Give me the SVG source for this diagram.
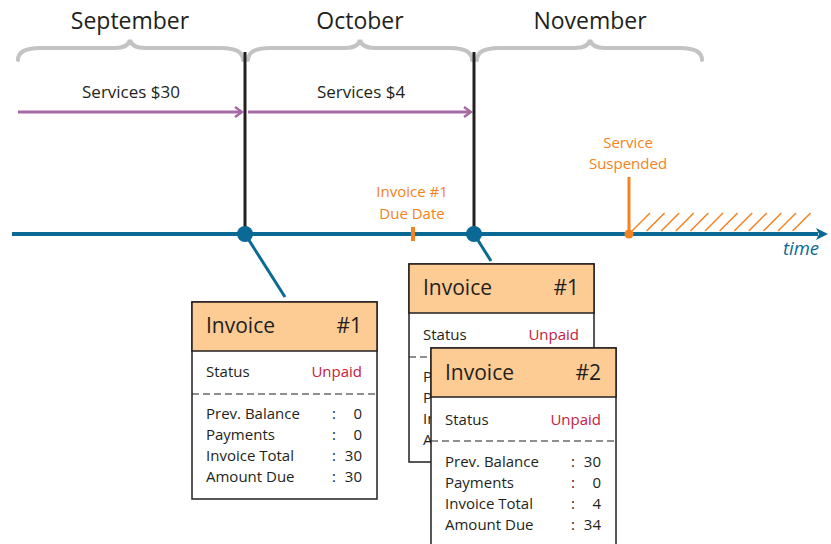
<svg xmlns="http://www.w3.org/2000/svg" width="831" height="544" viewBox="0 0 831 544">
<defs>
<style>
text{font-family:"Open Sans","Noto Sans","Liberation Sans",sans-serif;fill:#231f20}
.month{font-size:23px;text-anchor:middle}
.svc{font-size:17px;text-anchor:middle}
.brace{fill:none;stroke:#c3c3c3;stroke-width:4;stroke-linecap:round}
.orange{fill:#f58220;font-size:15px;text-anchor:middle}
.box{fill:#fff;stroke:#231f20;stroke-width:1.5}
.hdr{fill:#fdcb94;stroke:#231f20;stroke-width:1.5}
.ht{font-size:21px}
.st{font-size:15px}
.red{fill:#c8203c}
.r{text-anchor:end}
.dash{stroke:#231f20;stroke-width:1.2;stroke-dasharray:7 4}
.vline{stroke:#231f20;stroke-width:3}
.purple{stroke:#a46ba6;stroke-width:3;fill:none}
.blue{stroke:#0b6996}
</style>
<clipPath id="hidden">
<rect x="409" y="358" width="22" height="104"/>
</clipPath>
<marker id="chev" markerWidth="10" markerHeight="12" refX="8" refY="6" orient="auto" markerUnits="userSpaceOnUse">
<path d="M1,1 L8,6 L1,11" fill="none" stroke="#a46ba6" stroke-width="2.5"/>
</marker>
<marker id="tarrow" markerWidth="14" markerHeight="14" refX="2" refY="7" orient="auto" markerUnits="userSpaceOnUse">
<path d="M0,1 L12,7 L0,13 L3,7 Z" fill="#0b6996"/>
</marker>
</defs>

<g id="months">
<text class="month" x="130" y="29">September</text>
<text class="month" x="360" y="29">October</text>
<text class="month" x="590" y="29">November</text>
<path class="brace" d="M18,60 Q18,48 40,48 L115,48 Q128,48 130,40 Q132,48 145,48 L221,48 Q243,48 243,60"/>
<path class="brace" d="M248,60 Q248,48 270,48 L345,48 Q358,48 360,40 Q362,48 375,48 L450,48 Q472,48 472,60"/>
<path class="brace" d="M477,60 Q477,48 499,48 L575,48 Q588,48 590,40 Q592,48 605,48 L680,48 Q702,48 702,60"/>
</g>

<g id="services">
<text class="svc" x="131" y="98">Services $30</text>
<text class="svc" x="361" y="98">Services $4</text>
</g>

<g id="connectors">
<line class="purple" x1="18" y1="112" x2="242" y2="112" marker-end="url(#chev)"/>
<line class="purple" x1="248" y1="112" x2="471" y2="112" marker-end="url(#chev)"/>
<line class="vline" x1="245" y1="52" x2="245" y2="234"/>
<line class="vline" x1="474" y1="52" x2="474" y2="234"/>
<line x1="12" y1="234" x2="818" y2="234" stroke="#0b6996" stroke-width="4" marker-end="url(#tarrow)"/>
<line class="blue" x1="245" y1="234" x2="285" y2="297" stroke-width="3"/>
<line class="blue" x1="474" y1="234" x2="491" y2="261" stroke-width="3"/>
<circle cx="245" cy="234" r="8" fill="#0b6996"/>
<circle cx="474" cy="234" r="8" fill="#0b6996"/>
</g>

<g id="due-date">
<text class="orange" x="412" y="197">Invoice #1</text>
<text class="orange" x="412" y="219">Due Date</text>
<line x1="413" y1="227" x2="413" y2="241" stroke="#f58220" stroke-width="4"/>
</g>

<g id="suspended">
<text class="orange" x="628" y="148">Service</text>
<text class="orange" x="628" y="169">Suspended</text>
<line x1="629" y1="177" x2="629" y2="234" stroke="#f58220" stroke-width="3"/>
<g stroke="#f58220" stroke-width="1.5">
<line x1="632" y1="231" x2="650" y2="213"/>
<line x1="646.6" y1="231" x2="664.6" y2="213"/>
<line x1="661.2" y1="231" x2="679.2" y2="213"/>
<line x1="675.8" y1="231" x2="693.8" y2="213"/>
<line x1="690.4" y1="231" x2="708.4" y2="213"/>
<line x1="705" y1="231" x2="723" y2="213"/>
<line x1="719.6" y1="231" x2="737.6" y2="213"/>
<line x1="734.2" y1="231" x2="752.2" y2="213"/>
<line x1="748.8" y1="231" x2="766.8" y2="213"/>
<line x1="763.4" y1="231" x2="781.4" y2="213"/>
<line x1="778" y1="231" x2="796" y2="213"/>
<line x1="792.6" y1="231" x2="810.6" y2="213"/>
</g>
<circle cx="629" cy="234" r="4.5" fill="#f58220"/>
</g>

<g id="time-label">
<text x="801" y="255" font-size="18.5" font-style="italic" text-anchor="middle" style="fill:#0b6996">time</text>
</g>

<g id="invoice1-sep">
<rect class="box" x="192" y="302" width="185" height="197"/>
<rect class="hdr" x="192" y="302" width="185" height="49"/>
<text class="ht" x="206" y="333">Invoice</text>
<text class="ht r" x="362" y="333">#1</text>
<text class="st" x="206" y="377">Status</text>
<text class="st red r" x="362" y="377">Unpaid</text>
<line class="dash" x1="192" y1="394" x2="377" y2="394"/>
<text class="st" x="206" y="419">Prev. Balance</text><text class="st" x="332" y="419">:</text><text class="st r" x="362" y="419">0</text>
<text class="st" x="206" y="440">Payments</text><text class="st" x="332" y="440">:</text><text class="st r" x="362" y="440">0</text>
<text class="st" x="206" y="461">Invoice Total</text><text class="st" x="332" y="461">:</text><text class="st r" x="362" y="461">30</text>
<text class="st" x="206" y="482">Amount Due</text><text class="st" x="332" y="482">:</text><text class="st r" x="362" y="482">30</text>
</g>

<g id="invoice1-oct">
<rect class="box" x="409" y="264" width="185" height="198"/>
<rect class="hdr" x="409" y="264" width="185" height="49"/>
<text class="ht" x="423" y="295">Invoice</text>
<text class="ht r" x="579" y="295">#1</text>
<text class="st" x="423" y="340">Status</text>
<text class="st red r" x="579" y="340">Unpaid</text>
<line class="dash" x1="409" y1="357" x2="594" y2="357"/>
<g clip-path="url(#hidden)">
<text class="st" x="423" y="382">Prev. Balance</text>
<text class="st" x="423" y="403">Payments</text>
<text class="st" x="423" y="424">Invoice Total</text>
<text class="st" x="423" y="445">Amount Due</text>
</g>
</g>

<g id="invoice2">
<rect class="box" x="431" y="348" width="185" height="200"/>
<rect class="hdr" x="431" y="348" width="185" height="49"/>
<text class="ht" x="445" y="380">Invoice</text>
<text class="ht r" x="601" y="380">#2</text>
<text class="st" x="445" y="425">Status</text>
<text class="st red r" x="601" y="425">Unpaid</text>
<line class="dash" x1="431" y1="441" x2="616" y2="441"/>
<text class="st" x="445" y="467">Prev. Balance</text><text class="st" x="571" y="467">:</text><text class="st r" x="601" y="467">30</text>
<text class="st" x="445" y="488">Payments</text><text class="st" x="571" y="488">:</text><text class="st r" x="601" y="488">0</text>
<text class="st" x="445" y="509">Invoice Total</text><text class="st" x="571" y="509">:</text><text class="st r" x="601" y="509">4</text>
<text class="st" x="445" y="530">Amount Due</text><text class="st" x="571" y="530">:</text><text class="st r" x="601" y="530">34</text>
</g>
</svg>
